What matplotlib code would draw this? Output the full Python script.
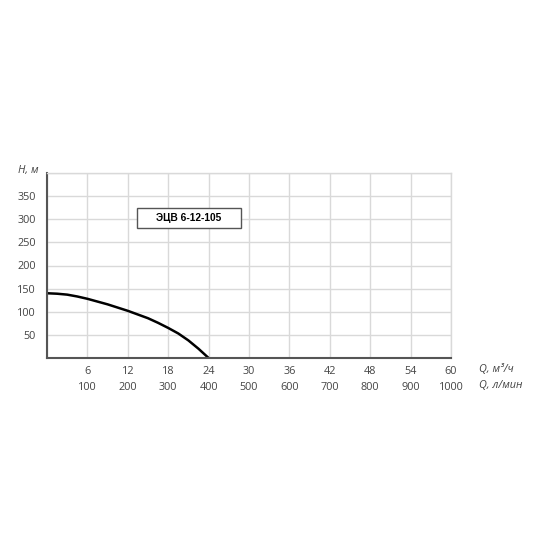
import matplotlib
matplotlib.use('Agg')
import matplotlib.pyplot as plt
from matplotlib.patches import Rectangle

plt.rcParams['font.family'] = ['Open Sans', 'DejaVu Sans']

# кривая напора (Q, м3/ч -> H, м)
q_m3h = [0, 1.5, 3, 4.5, 6, 7.5, 9, 10.5, 12, 13.5, 15, 16.5, 18, 19.5, 21, 22.5, 24]
h_m = [140, 139, 137, 133, 128, 122, 116, 109, 102, 94, 86, 76, 65, 53, 38, 20, 0]

x_ticks = [6, 12, 18, 24, 30, 36, 42, 48, 54, 60]
x2_ticks = [100, 200, 300, 400, 500, 600, 700, 800, 900, 1000]
y_ticks = [50, 100, 150, 200, 250, 300, 350]
pump_name = 'ЭЦВ 6-12-105'

txt_color = '#444444'
grid_color = '#d9d9d9'

fig = plt.figure(figsize=(5.5, 5.5), dpi=100)
ax = fig.add_axes([47 / 550, 1 - 358 / 550, 404 / 550, 185 / 550])

ax.set_xlim(0, 60)
ax.set_ylim(0, 400)

ax.set_xticks([0] + x_ticks)
ax.set_xticklabels([''] + [str(v) for v in x_ticks])
ax.set_yticks(y_ticks + [400])
ax.set_yticklabels([str(v) for v in y_ticks] + [''])
ax.tick_params(axis='both', length=0, labelsize=7.8, labelcolor=txt_color)
ax.tick_params(axis='x', pad=6)
ax.tick_params(axis='y', pad=8)
ax.grid(True, color=grid_color, lw=1)
ax.set_axisbelow(True)

for s in ['top', 'right']:
    ax.spines[s].set_color(grid_color)
    ax.spines[s].set_linewidth(1)
for s in ['left', 'bottom']:
    ax.spines[s].set_color('#555555')
    ax.spines[s].set_linewidth(1.5)

# вторая шкала, л/мин
sec = ax.secondary_xaxis('bottom', functions=(lambda q: q * 1000 / 60, lambda l: l * 60 / 1000))
sec.set_xticks(x2_ticks)
sec.set_xticklabels([str(v) for v in x2_ticks])
sec.tick_params(length=0, labelsize=7.8, labelcolor=txt_color, pad=17)
sec.spines['bottom'].set_visible(False)

ax.plot(q_m3h, h_m, color='black', lw=1.8, solid_joinstyle='round')

ax.add_patch(Rectangle((13.4, 281), 15.4, 44, fill=True, facecolor='white',
                       edgecolor='#555555', lw=1, zorder=3))
ax.text(21.1, 303, pump_name, ha='center', va='center', fontsize=7.3,
        fontweight='bold', family='Liberation Sans', color='black', zorder=4)

fig.text(39 / 550, 1 - 170 / 550, 'H, м', ha='right', va='center',
         fontsize=7.8, style='italic', color=txt_color)
fig.text(479 / 550, 1 - 369 / 550, 'Q, м³/ч', ha='left', va='center',
         fontsize=7.8, style='italic', color=txt_color)
fig.text(479 / 550, 1 - 385 / 550, 'Q, л/мин', ha='left', va='center',
         fontsize=7.8, style='italic', color=txt_color)

plt.savefig('out.png', dpi=100)
